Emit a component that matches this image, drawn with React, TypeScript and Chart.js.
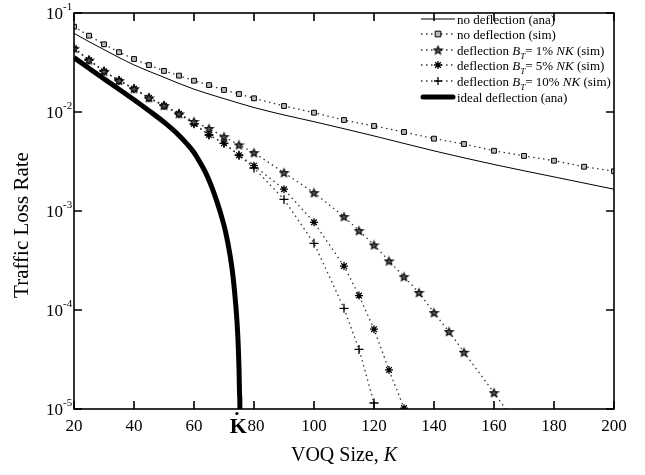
import React, { useEffect, useRef } from "react";
import { Chart, registerables } from "chart.js";
import { drawPoint } from "chart.js/helpers";

Chart.register(...registerables);

// Axis ticks
const K_TICKS = [20, 40, 60, 80, 100, 120, 140, 160, 180, 200];
const LOSS_DECADES = [1e-1, 1e-2, 1e-3, 1e-4, 1e-5];
const DECADE_EXPONENTS = ["-1", "-2", "-3", "-4", "-5"];

// No deflection, analytical
const anaK = [20, 25, 30, 35, 40, 50, 60, 70, 80, 90, 100, 120, 140, 160, 180, 200];
const anaLoss = [0.0624, 0.0513, 0.0427, 0.0355, 0.0299, 0.0224, 0.017, 0.01365, 0.0111, 0.00933, 0.00798, 0.00573, 0.00405, 0.00295, 0.00221, 0.00166];

// No deflection, simulation
const simK = [20, 25, 30, 35, 40, 45, 50, 55, 60, 65, 70, 75, 80, 90, 100, 110, 120, 130, 140, 150, 160, 170, 180, 190, 200];
const simLoss = [0.0727, 0.059, 0.0483, 0.0402, 0.0343, 0.0298, 0.026, 0.0233, 0.0207, 0.0187, 0.0167, 0.0152, 0.01375, 0.0115, 0.00984, 0.0083, 0.00722, 0.00628, 0.00538, 0.00475, 0.00406, 0.0036, 0.00322, 0.0028, 0.00252];

// Deflection threshold 1% NK, simulation
const defl1K = [20, 25, 30, 35, 40, 45, 50, 55, 60, 65, 70, 75, 80, 90, 100, 110, 115, 120, 125, 130, 135, 140, 145, 150, 160, 165];
const defl1Loss = [0.044, 0.0335, 0.0258, 0.0208, 0.0172, 0.0139, 0.0116, 0.0096, 0.008, 0.0068, 0.00563, 0.00465, 0.00388, 0.00244, 0.00153, 8.77e-4, 6.33e-4, 4.54e-4, 3.13e-4, 2.17e-4, 1.5e-4, 9.4e-5, 6.04e-5, 3.74e-5, 1.46e-5, 9.0e-6];

// Deflection threshold 5% NK, simulation
const defl5K = [20, 25, 30, 35, 40, 45, 50, 55, 60, 65, 70, 75, 80, 90, 100, 110, 115, 120, 125, 130];
const defl5Loss = [0.044, 0.0335, 0.0258, 0.0208, 0.0172, 0.0139, 0.0116, 0.0096, 0.0076, 0.00586, 0.00483, 0.00366, 0.00287, 0.00166, 7.69e-4, 2.78e-4, 1.4e-4, 6.4e-5, 2.48e-5, 1.02e-5];

// Deflection threshold 10% NK, simulation
const defl10K = [20, 25, 30, 35, 40, 45, 50, 55, 60, 65, 70, 75, 80, 90, 100, 110, 115, 120];
const defl10Loss = [0.044, 0.0335, 0.0258, 0.0208, 0.0172, 0.0139, 0.0116, 0.0096, 0.0076, 0.00586, 0.00483, 0.00366, 0.00272, 0.00131, 4.72e-4, 1.04e-4, 4.0e-5, 1.15e-5];

// Ideal deflection, analytical (drops to zero at K-dot)
const idealK = [20, 25, 30, 35, 40, 45, 50, 55, 60, 62, 64, 66, 67.5, 69, 70.5, 72, 73, 74, 74.6, 75, 75.2, 75.3, 75.35];
const idealLoss = [0.0354, 0.0277, 0.0216, 0.017, 0.0133, 0.0103, 0.0079, 0.0058, 0.0039, 0.0031, 0.0024, 0.00172, 0.00128, 0.00092, 6.2e-4, 3.6e-4, 2.2e-4, 1.05e-4, 5.5e-5, 2.6e-5, 1.4e-5, 1.0e-5, 1e-7];

const K_DOT = 75.3;
const DEFL_PCT = ["1%", "5%", "10%"];

const SERIF = '"Liberation Serif", "Times New Roman", serif';

const pts = (xs: number[], ys: number[]) => xs.map((x, i) => ({ x, y: ys[i] }));

function makeStar(): HTMLCanvasElement {
  const c = document.createElement("canvas");
  c.width = 11;
  c.height = 11;
  const g = c.getContext("2d")!;
  g.beginPath();
  for (let i = 0; i < 10; i++) {
    const r = i % 2 === 0 ? 4.3 : 1.9;
    const a = -Math.PI / 2 + (i * Math.PI) / 5;
    const px = 5.5 + r * Math.cos(a);
    const py = 5.9 + r * Math.sin(a);
    if (i === 0) g.moveTo(px, py);
    else g.lineTo(px, py);
  }
  g.closePath();
  g.fillStyle = "#555";
  g.fill();
  g.strokeStyle = "#000";
  g.lineWidth = 1.1;
  g.stroke();
  return c;
}

type Part = [string, "n" | "i" | "s"];

function drawParts(ctx: CanvasRenderingContext2D, parts: Part[], x: number, y: number, size: number) {
  let cx = x;
  for (const [t, st] of parts) {
    if (st === "s") {
      ctx.font = `italic ${Math.round(size * 0.7)}px ${SERIF}`;
      ctx.fillText(t, cx, y + 4);
    } else {
      ctx.font = `${st === "i" ? "italic " : ""}${size}px ${SERIF}`;
      ctx.fillText(t, cx, y);
    }
    cx += ctx.measureText(t).width;
  }
}

export default function App() {
  const ref = useRef<HTMLCanvasElement | null>(null);

  useEffect(() => {
    if (!ref.current) return;
    const star = makeStar();
    const dotted = [1.5, 3.5];
    const hideBelow = (c: any) => (c.raw && c.raw.y < 1e-5 ? 0 : 4);

    const legendRows: { parts: Part[]; ds: number }[] = [
      { parts: [["no deflection (ana)", "n"]], ds: 0 },
      { parts: [["no deflection (sim)", "n"]], ds: 1 },
      ...DEFL_PCT.map((p, i) => ({
        parts: [
          ["deflection ", "n"],
          ["B", "i"],
          ["T", "s"],
          [`= ${p} `, "n"],
          ["NK", "i"],
          [" (sim)", "n"],
        ] as Part[],
        ds: 2 + i,
      })),
      { parts: [["ideal deflection (ana)", "n"]], ds: 5 },
    ];
    const legendY = [19, 34, 50, 65, 81, 97];

    const decor = {
      id: "decor",
      afterDraw(chart: any) {
        const { ctx, chartArea: a, scales } = chart;
        const xs = scales.x;
        const ys = scales.y;
        ctx.save();
        ctx.strokeStyle = "#000";
        ctx.fillStyle = "#000";
        ctx.setLineDash([]);

        // frame and inward ticks
        ctx.lineWidth = 1.6;
        ctx.strokeRect(a.left, a.top, a.right - a.left, a.bottom - a.top);
        ctx.beginPath();
        for (const k of K_TICKS) {
          const px = xs.getPixelForValue(k);
          ctx.moveTo(px, a.bottom);
          ctx.lineTo(px, a.bottom - 8);
          ctx.moveTo(px, a.top);
          ctx.lineTo(px, a.top + 8);
        }
        for (const v of LOSS_DECADES) {
          const py = ys.getPixelForValue(v);
          ctx.moveTo(a.left, py);
          ctx.lineTo(a.left + 8, py);
          ctx.moveTo(a.right, py);
          ctx.lineTo(a.right - 8, py);
        }
        ctx.stroke();

        // x tick labels
        ctx.font = `17px ${SERIF}`;
        ctx.textAlign = "center";
        ctx.textBaseline = "alphabetic";
        for (const k of K_TICKS) {
          ctx.fillText(String(k), xs.getPixelForValue(k) + (k === 80 ? 2 : 0), a.bottom + 22);
        }

        // y tick labels: 10 with exponent
        LOSS_DECADES.forEach((v, i) => {
          const py = ys.getPixelForValue(v);
          const ex = a.left - 11;
          ctx.textAlign = "right";
          ctx.font = `17px ${SERIF}`;
          ctx.fillText("10", ex, py + 6);
          ctx.textAlign = "left";
          ctx.font = `11px ${SERIF}`;
          ctx.fillText(DECADE_EXPONENTS[i], ex, py - 3);
        });

        // K-dot marker on the x axis
        const kx = xs.getPixelForValue(K_DOT);
        ctx.textAlign = "center";
        ctx.font = `bold 22px ${SERIF}`;
        ctx.fillText("K", kx - 1.5, a.bottom + 24);
        ctx.beginPath();
        ctx.arc(kx - 3, a.bottom + 4.5, 1.6, 0, Math.PI * 2);
        ctx.fill();

        // axis titles
        const t1 = "VOQ Size, ";
        ctx.font = `20px ${SERIF}`;
        const w1 = ctx.measureText(t1).width;
        ctx.font = `italic 20px ${SERIF}`;
        const w2 = ctx.measureText("K").width;
        const tx = (a.left + a.right) / 2 - (w1 + w2) / 2;
        ctx.textAlign = "left";
        ctx.font = `20px ${SERIF}`;
        ctx.fillText(t1, tx, a.bottom + 52);
        ctx.font = `italic 20px ${SERIF}`;
        ctx.fillText("K", tx + w1, a.bottom + 52);

        ctx.save();
        ctx.translate(28, 225);
        ctx.rotate(-Math.PI / 2);
        ctx.textAlign = "center";
        ctx.font = `21px ${SERIF}`;
        ctx.fillText("Traffic Loss Rate", 0, 0);
        ctx.restore();

        // legend
        const lx0 = 421;
        const lx1 = 455;
        legendRows.forEach((row, i) => {
          const y = legendY[i];
          const ds = chart.data.datasets[row.ds];
          ctx.save();
          ctx.strokeStyle = ds.borderColor;
          ctx.lineWidth = ds.borderWidth;
          ctx.lineCap = ds.borderWidth > 3 ? "round" : "butt";
          ctx.setLineDash(ds.borderDash || []);
          ctx.beginPath();
          ctx.moveTo(lx0 + (ds.borderWidth > 3 ? 2 : 0), y);
          ctx.lineTo(lx1 - (ds.borderWidth > 3 ? 2 : 0), y);
          ctx.stroke();
          ctx.setLineDash([]);
          ctx.lineCap = "butt";
          if (ds.pointStyle && ds.pointRadius !== 0) {
            ctx.fillStyle = ds.pointBackgroundColor || "#000";
            ctx.strokeStyle = ds.pointBorderColor || "#000";
            ctx.lineWidth = ds.pointBorderWidth || 1;
            drawPoint(ctx, { pointStyle: ds.pointStyle, rotation: 0, radius: 4, borderWidth: ds.pointBorderWidth || 1 } as any, (lx0 + lx1) / 2, y);
          }
          ctx.restore();
          ctx.fillStyle = "#000";
          ctx.textAlign = "left";
          drawParts(ctx, row.parts, lx1 + 2, y + 4.5, 13);
        });

        ctx.restore();
      },
    };

    const chart = new Chart(ref.current, {
      type: "line",
      data: {
        datasets: [
          {
            label: "no deflection (ana)",
            data: pts(anaK, anaLoss),
            borderColor: "#000",
            borderWidth: 1,
            pointRadius: 0,
            cubicInterpolationMode: "monotone",
            clip: 0,
          } as any,
          {
            label: "no deflection (sim)",
            data: pts(simK, simLoss),
            borderColor: "#333",
            borderWidth: 1.3,
            borderDash: dotted,
            pointStyle: "rect",
            pointRadius: 3.4,
            pointBorderWidth: 1,
            pointBorderColor: "#000",
            pointBackgroundColor: "#bbb",
            clip: 0,
          },
          {
            label: "deflection 1% NK (sim)",
            data: pts(defl1K, defl1Loss),
            borderColor: "#333",
            borderWidth: 1.3,
            borderDash: dotted,
            pointStyle: star,
            pointRadius: hideBelow,
            pointBorderWidth: 1,
            pointBorderColor: "#000",
            pointBackgroundColor: "#000",
            clip: 0,
          },
          {
            label: "deflection 5% NK (sim)",
            data: pts(defl5K, defl5Loss),
            borderColor: "#333",
            borderWidth: 1.3,
            borderDash: dotted,
            pointStyle: "star",
            pointRadius: 4,
            pointBorderWidth: 1.3,
            pointBorderColor: "#000",
            pointBackgroundColor: "#000",
            clip: 0,
          },
          {
            label: "deflection 10% NK (sim)",
            data: pts(defl10K, defl10Loss),
            borderColor: "#333",
            borderWidth: 1.3,
            borderDash: dotted,
            pointStyle: "cross",
            pointRadius: 4.5,
            pointBorderWidth: 1.3,
            pointBorderColor: "#000",
            pointBackgroundColor: "#000",
            clip: 0,
          },
          {
            label: "ideal deflection (ana)",
            data: pts(idealK, idealLoss),
            borderColor: "#000",
            borderWidth: 5,
            pointRadius: 0,
            cubicInterpolationMode: "monotone",
            clip: 0,
          } as any,
        ],
      },
      options: {
        animation: false,
        responsive: false,
        devicePixelRatio: 1,
        layout: { padding: { left: 74, right: 31, top: 13, bottom: 66 } },
        plugins: { legend: { display: false }, tooltip: { enabled: false } },
        elements: { line: { tension: 0 } },
        scales: {
          x: { type: "linear", min: 20, max: 200, display: false },
          y: { type: "logarithmic", min: 1e-5, max: 1e-1, display: false },
        },
      },
      plugins: [decor],
    });

    return () => chart.destroy();
  }, []);

  return (
    <canvas
      ref={ref}
      width={645}
      height={475}
      style={{ position: "absolute", left: 0, top: 0, width: 645, height: 475, background: "#fff" }}
    />
  );
}
